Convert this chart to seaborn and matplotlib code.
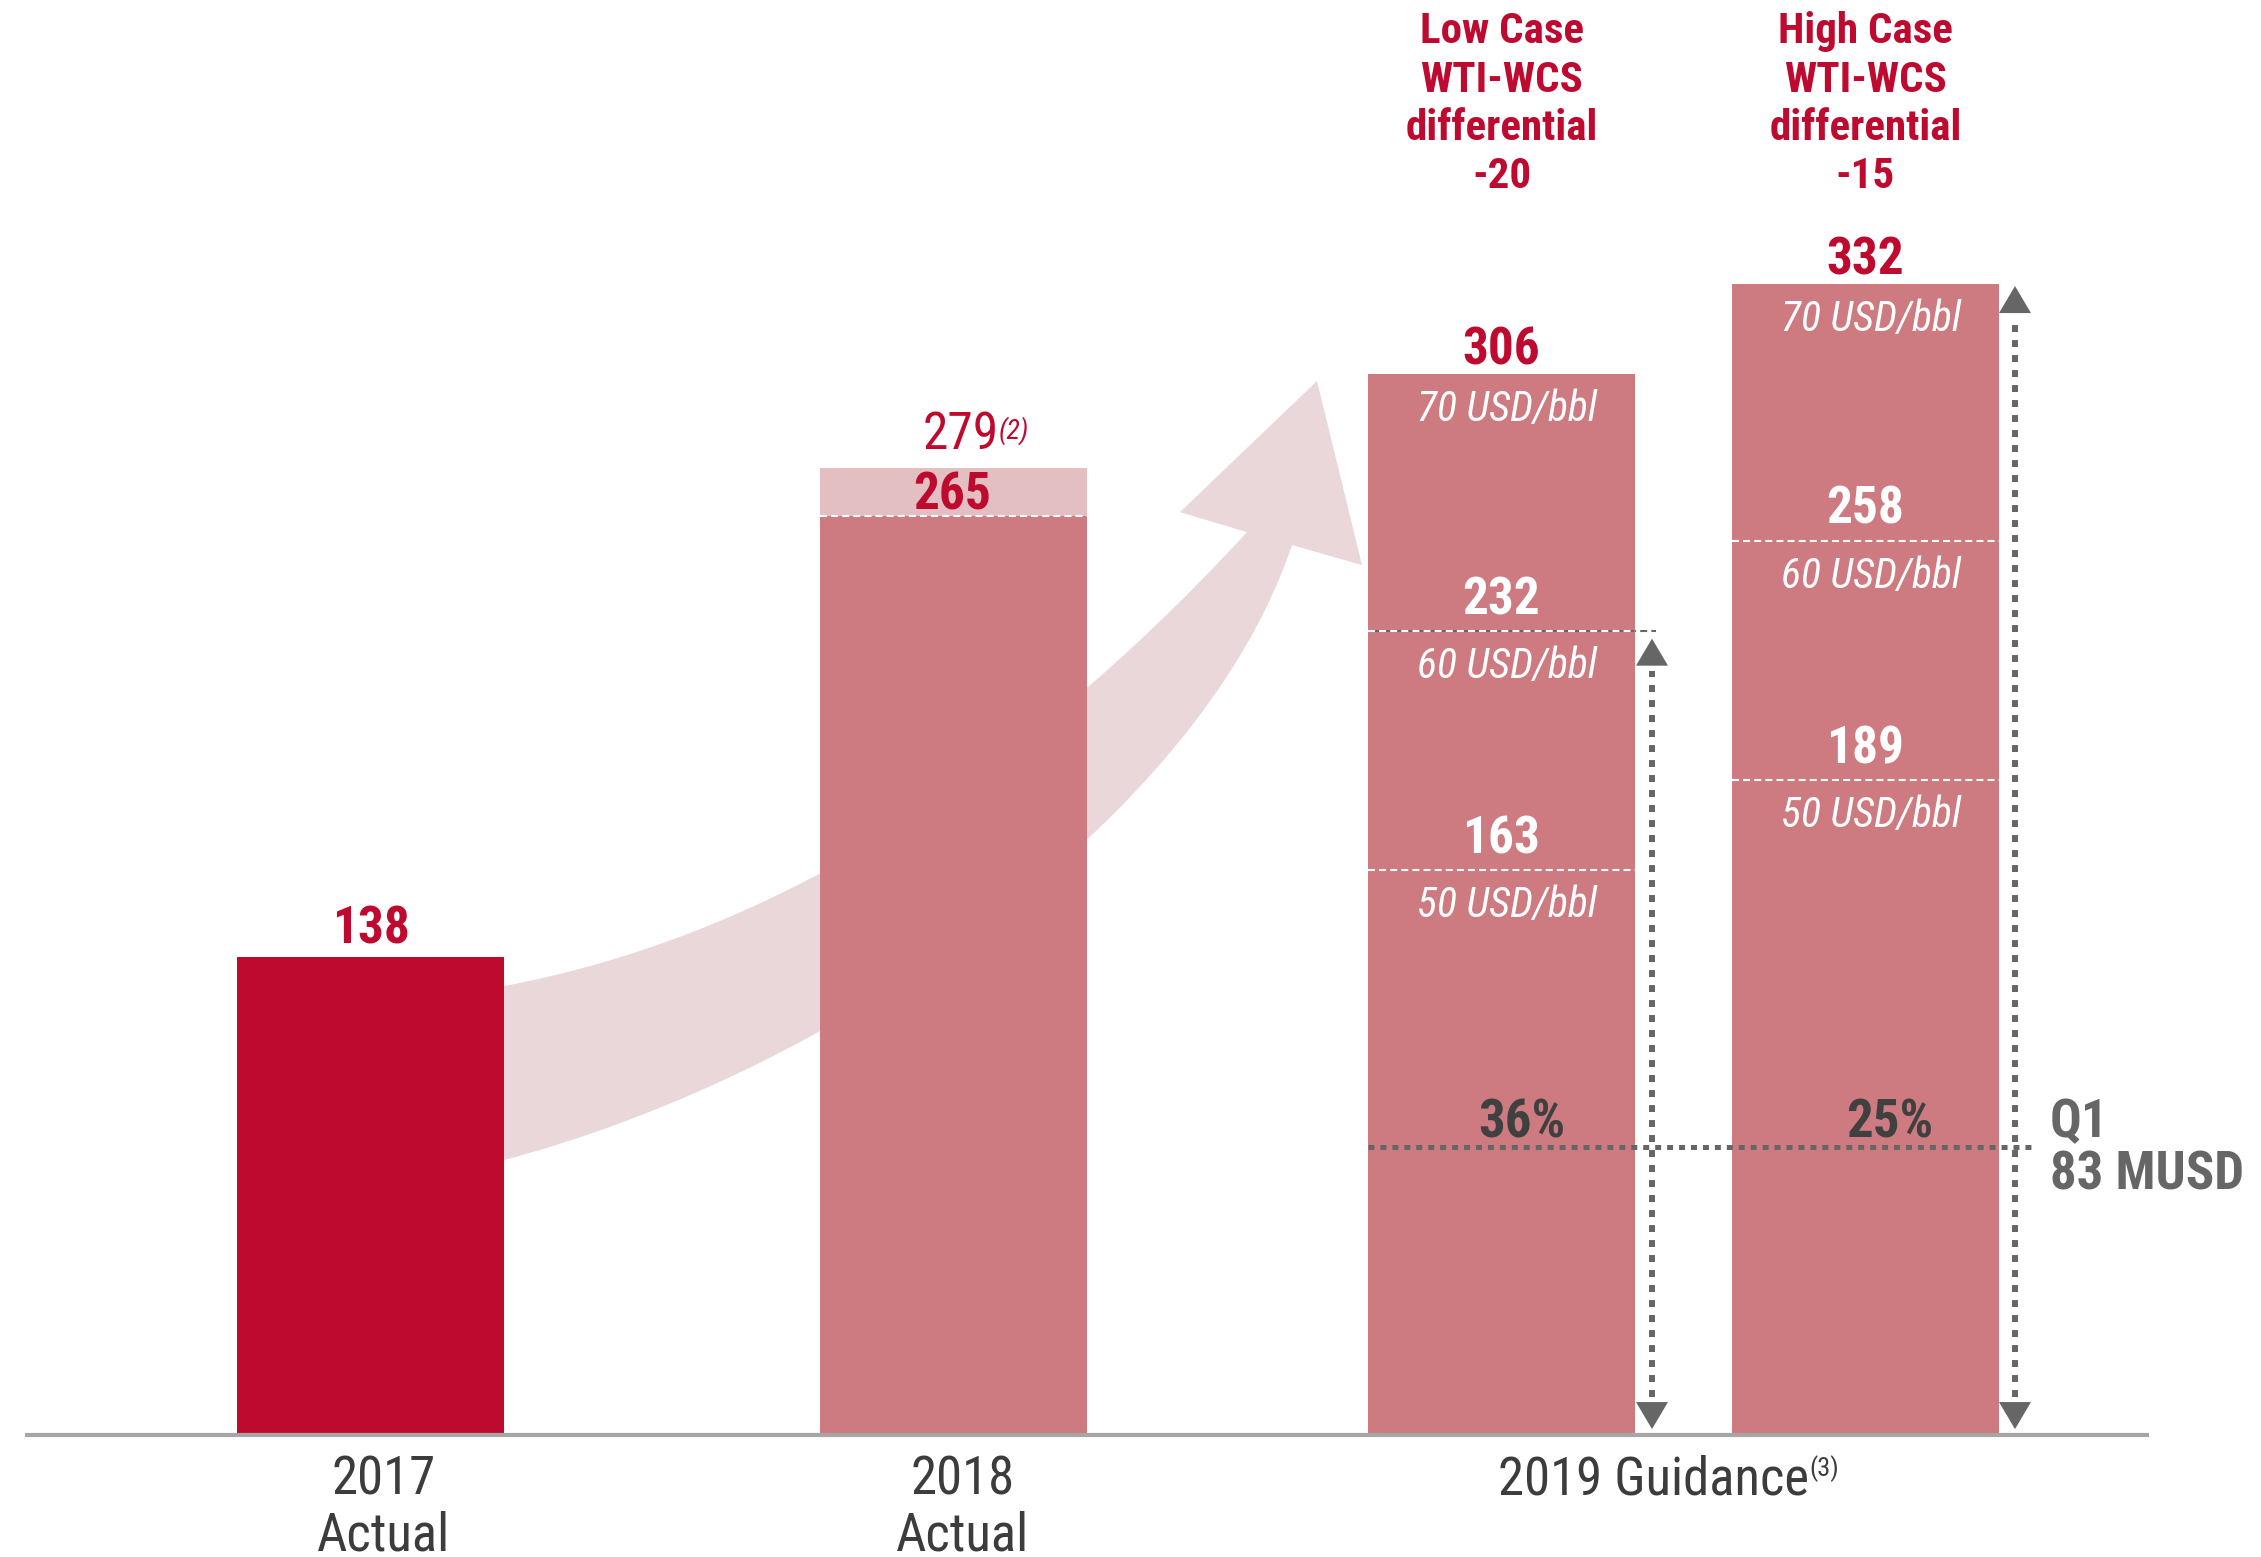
import matplotlib
matplotlib.use('Agg')
import matplotlib.pyplot as plt
import seaborn as sns
import pandas as pd
from matplotlib import font_manager as fm
from matplotlib.path import Path
from matplotlib.patches import PathPatch

# --- data (MUSD) ---
categories = ['2017 Actual', '2018 Actual', '2019 Low Case', '2019 High Case']
ebitda = [138, 265, 306, 332]
ebitda_2018_reported = 279
low_case_levels = [163, 232, 306]      # at 50 / 60 / 70 USD/bbl
high_case_levels = [189, 258, 332]
oil_prices = ['50 USD/bbl', '60 USD/bbl', '70 USD/bbl']
q1_value = 83
q1_share = ['36%', '25%']
case_titles = [['Low Case', 'WTI-WCS', 'differential', '-20'],
               ['High Case', 'WTI-WCS', 'differential', '-15']]
tick_labels = [['2017', 'Actual'], ['2018', 'Actual'], ['2019 Guidance']]

# --- colours ---
RED = '#BE0A2F'
PINK = '#CD7B80'
LIGHT = '#E3BFC2'
ARROW = '#EAD7D9'
GREY = '#666666'
DARK = '#404040'
TICK = '#3C3C3C'

# condensed font, like the original slide
names = {f.name for f in fm.fontManager.ttflist}
FONT = 'Roboto Condensed' if 'Roboto Condensed' in names else 'DejaVu Sans'

sns.set_style('white')
plt.rcParams['font.family'] = [FONT, 'DejaVu Sans']
plt.rcParams['lines.scale_dashes'] = False

fig = plt.figure(figsize=(22.61, 15.57), dpi=100)
ax = fig.add_axes([0, 0, 1, 1])

# layout (x in figure-width/100 units)
bar_x = [3.705, 9.535, 15.015, 18.655]
bar_w = 2.67
min_gap = min(b - a for a, b in zip(bar_x, bar_x[1:]))

tops = list(ebitda)
tops[1] = ebitda_2018_reported
df = pd.DataFrame({'x': bar_x, 'value': ebitda, 'top': tops, 'cat': categories})

# curved growth arrow behind the bars
U = [(5.04, 129.5), (7.50, 142.8), (10.00, 183.1), (12.47, 260.4)]
L = [(5.04, 79.3), (8.34, 104.4), (12.00, 177.4), (12.92, 256.7)]
head = [(11.80, 266.2), (13.17, 304.0), (13.62, 250.9)]
verts = U + head + [L[3], L[2], L[1], L[0], U[0]]
codes = [Path.MOVETO, Path.CURVE4, Path.CURVE4, Path.CURVE4,
         Path.LINETO, Path.LINETO, Path.LINETO, Path.LINETO,
         Path.CURVE4, Path.CURVE4, Path.CURVE4, Path.CLOSEPOLY]
ax.add_patch(PathPatch(Path(verts, codes), facecolor=ARROW, edgecolor='none', zorder=1))

# bars: reported 2018 (light) underneath, then the main bars
sns.barplot(data=df, x='x', y='top', hue='cat', palette=[LIGHT] * 4, saturation=1,
            native_scale=True, width=bar_w / min_gap, dodge=False, legend=False,
            errorbar=None, ax=ax, zorder=2, linewidth=0)
sns.barplot(data=df, x='x', y='value', hue='cat', palette=[RED, PINK, PINK, PINK], saturation=1,
            native_scale=True, width=bar_w / min_gap, dodge=False, legend=False,
            errorbar=None, ax=ax, zorder=3, linewidth=0)

ax.set_xlim(0, 22.61)
ax.set_ylim(-35.19, 413.9)
ax.axis('off')

# baseline
ax.plot([0.25, 21.49], [0, 0], color='#A6A6A6', lw=3, zorder=6, solid_capstyle='butt')

dash = (0, (5, 3))
half = bar_w / 2

# 2018 labels
ax.hlines(ebitda[1], bar_x[1] - half, bar_x[1] + half, colors='white', linestyles=dash, lw=1.5, zorder=4)
t279 = ax.text(bar_x[1] + 0.07, ebitda_2018_reported + 5.5, str(ebitda_2018_reported), ha='center',
               va='baseline', fontsize=37, color=RED)
ax.annotate('(2)', xy=(1, 1), xycoords=t279, xytext=(0, -5), textcoords='offset points',
            ha='left', va='top', fontsize=20, style='italic', color=RED)
ax.text(bar_x[1] - 0.01, ebitda[1] + 1.8, str(ebitda[1]), ha='center', va='baseline',
        fontsize=37, fontweight='bold', color=RED)

# 2017 label
ax.text(bar_x[0], ebitda[0] + 3.8, str(ebitda[0]), ha='center', va='baseline',
        fontsize=37, fontweight='bold', color=RED)

# gray dashed at 60 USD/bbl low case extends to its range arrow
ax.hlines(low_case_levels[1], bar_x[2] - half, 16.56, colors=GREY, linestyles=(4, (5, 3)), lw=1.5, zorder=4)

# 2019 guidance bars
for bx, levels, title in zip(bar_x[2:], [low_case_levels, high_case_levels], case_titles):
    for i, (lvl, price) in enumerate(zip(levels, oil_prices)):
        if i < len(levels) - 1:
            ax.hlines(lvl, bx - half, bx + half, colors='white', linestyles=dash, lw=1.5, zorder=5)
            ax.text(bx + 0.0, lvl + 4.8, str(lvl), ha='center', va='baseline', fontsize=37,
                    fontweight='bold', color='white', zorder=7)
        else:
            ax.text(bx, lvl + 2.8, str(lvl), ha='center', va='baseline', fontsize=37,
                    fontweight='bold', color=RED, zorder=7)
        ax.text(bx + 0.05, lvl - 13.6, price, ha='center', va='baseline', fontsize=30,
                style='italic', color='white', zorder=7)
    for j, line in enumerate(title):
        ax.text(bx, 404.7 - 13.9 * j, line, ha='center', va='center', fontsize=31,
                fontweight='bold', color=RED)


def range_arrow(x, y_top):
    hw, hh = 0.16, 7.8
    ax.fill([x - hw, x + hw, x], [y_top - hh, y_top - hh, y_top], color=GREY, lw=0, zorder=6)
    ax.fill([x - hw, x + hw, x], [1.7 + hh, 1.7 + hh, 1.7], color=GREY, lw=0, zorder=6)
    ax.plot([x, x], [1.7 + hh + 1.5, y_top - hh - 1.5], color=GREY, lw=4.3,
            ls=(0, (5, 5.8)), zorder=6)


range_arrow(16.52, low_case_levels[1] - 2.3)
range_arrow(20.15, high_case_levels[2] - 0.6)

# Q1 actual
ax.hlines(q1_value, bar_x[2] - half, 20.33, colors=GREY, linestyles=(0, (4.3, 4.3)), lw=3.6, zorder=6)
ax.text(bar_x[2] + 0.2, 85.7, q1_share[0], ha='center', va='baseline', fontsize=38,
        fontweight='bold', color=DARK, zorder=7)
ax.text(bar_x[3] + 0.24, 85.7, q1_share[1], ha='center', va='baseline', fontsize=38,
        fontweight='bold', color=DARK, zorder=7)
ax.text(20.5, 86, 'Q1', ha='left', va='baseline', fontsize=38, fontweight='bold', color=GREY)
ax.text(20.5, 70.7, f'{q1_value} MUSD', ha='left', va='baseline', fontsize=38,
        fontweight='bold', color=GREY)

# x labels
for x, lines in zip([3.84, 9.63], tick_labels[:2]):
    ax.text(x, -17.3, lines[0], ha='center', va='baseline', fontsize=38, color=TICK)
    ax.text(x, -33.2, lines[1], ha='center', va='baseline', fontsize=38, color=TICK)
g = ax.text(16.54, -17.3, tick_labels[2][0], ha='center', va='baseline', fontsize=38, color=TICK)
ax.annotate('(3)', xy=(1, 1), xycoords=g, xytext=(0, 0), textcoords='offset points',
            ha='left', va='top', fontsize=19, color=TICK)

fig.savefig('out.png', dpi=100)
